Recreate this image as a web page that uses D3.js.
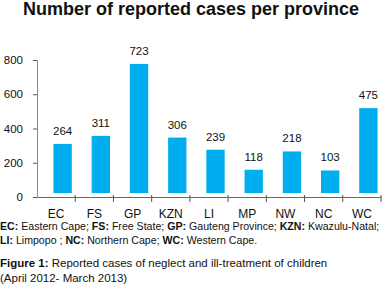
<!DOCTYPE html>
<html>
<head>
<meta charset="utf-8">
<script src="https://cdn.jsdelivr.net/npm/d3@7"></script>
<style>
  body { margin: 0; background: #fff; }
  svg { display: block; font-family: "Liberation Sans", Arial, Helvetica, sans-serif; }
</style>
</head>
<body>
<div id="chart"></div>
<script>
// -- DATA --
var provinces = ['EC', 'FS', 'GP', 'KZN', 'LI', 'MP', 'NW', 'NC', 'WC']
var cases = [264, 311, 723, 306, 239, 118, 218, 103, 475]
// bar tops (the bars in the original sit above the labels' values)
var barTops = [310, 357, 777, 347, 276, 159, 266, 155, 519]
var barBase = 23
var yTicks = [0, 200, 400, 600, 800]

var title = 'Number of reported cases per province'
var legendLines = [
  [['EC:', ' Eastern Cape; '], ['FS:', ' Free State; '], ['GP:', ' Gauteng Province; '], ['KZN:', ' Kwazulu-Natal;']],
  [['LI:', ' Limpopo ; '], ['NC:', ' Northern Cape; '], ['WC:', ' Western Cape.']]
]
var captionLines = [
  [['Figure 1:', ' Reported cases of neglect and ill-treatment of children']],
  [['', '(April 2012- March 2013)']]
]

// -- GLOBAL --
var width = 383
var height = 291
var margin = {left: 37, right: 2, top: 60, bottom: 94}
var barColor = '#00aeef'
var textColor = '#111'

var svg = d3.select('#chart').append('svg')
  .attr('width', width)
  .attr('height', height)

var data = provinces.map((p, i) => ({label: p, value: cases[i], top: barTops[i]}))

var xMap = d3.scaleBand()
  .domain(provinces)
  .range([margin.left, width - margin.right])

var yMap = d3.scaleLinear()
  .domain([0, 800])
  .range([height - margin.bottom, margin.top])

// title
svg.append('text')
  .attr('x', 191)
  .attr('y', 15)
  .style('text-anchor', 'middle')
  .style('font-weight', '700')
  .style('font-size', '18px')
  .style('fill', textColor)
  .text(title)

// bars
svg.append('g').selectAll('rect')
  .data(data)
  .enter().append('rect')
    .attr('x', d => xMap(d.label) + xMap.bandwidth() * 0.43)
    .attr('y', d => yMap(d.top))
    .attr('width', xMap.bandwidth() * 0.48)
    .attr('height', d => yMap(barBase) - yMap(d.top))
    .style('fill', barColor)

// value labels
svg.append('g').selectAll('text')
  .data(data)
  .enter().append('text')
    .attr('x', d => xMap(d.label) + xMap.bandwidth() * 0.67)
    .attr('y', d => yMap(d.top) - 9)
    .style('text-anchor', 'middle')
    .style('font-size', '11.5px')
    .style('fill', textColor)
    .text(d => d.value)

// y axis
var yAxis = d3.axisLeft(yMap)
  .tickValues(yTicks)
  .tickSize(4)
  .tickPadding(10)
var gY = svg.append('g')
  .attr('transform', 'translate(' + margin.left + ',0)')
  .call(yAxis)
gY.select('.domain').style('stroke', '#888')
gY.selectAll('.tick line').style('stroke', '#555')
gY.selectAll('text')
  .style('font-family', 'inherit')
  .style('font-size', '11.5px')
  .style('fill', textColor)

// x axis
var xAxis = d3.axisBottom(xMap)
  .tickSize(0)
  .tickPadding(12)
var gX = svg.append('g')
  .attr('transform', 'translate(0,' + yMap(0) + ')')
  .call(xAxis)
gX.select('.domain').style('stroke', '#666')
gX.selectAll('text')
  .style('font-family', 'inherit')
  .style('font-size', '12px')
  .style('fill', textColor)

// category separators (ticks between bands)
var edges = provinces.map(p => xMap(p) + xMap.bandwidth())
gX.selectAll('.sep')
  .data(edges)
  .enter().append('line')
    .attr('class', 'sep')
    .attr('x1', d => d)
    .attr('x2', d => d)
    .attr('y1', -2)
    .attr('y2', 5)
    .style('stroke', '#555')
    .style('stroke-width', '1px')

// legend + caption
function writeLines(lines, y0, lineH, size) {
  lines.forEach((segs, i) => {
    var t = svg.append('text')
      .attr('x', 0)
      .attr('y', y0 + i * lineH)
      .style('font-size', size)
      .style('fill', textColor)
      .attr('xml:space', 'preserve')
    segs.forEach(s => {
      if (s[0]) t.append('tspan').style('font-weight', '700').text(s[0])
      t.append('tspan').text(s[1])
    })
  })
}
writeLines(legendLines, 230, 13.5, '10.6px')
writeLines(captionLines, 266.5, 15, '11.5px')
</script>
</body>
</html>
